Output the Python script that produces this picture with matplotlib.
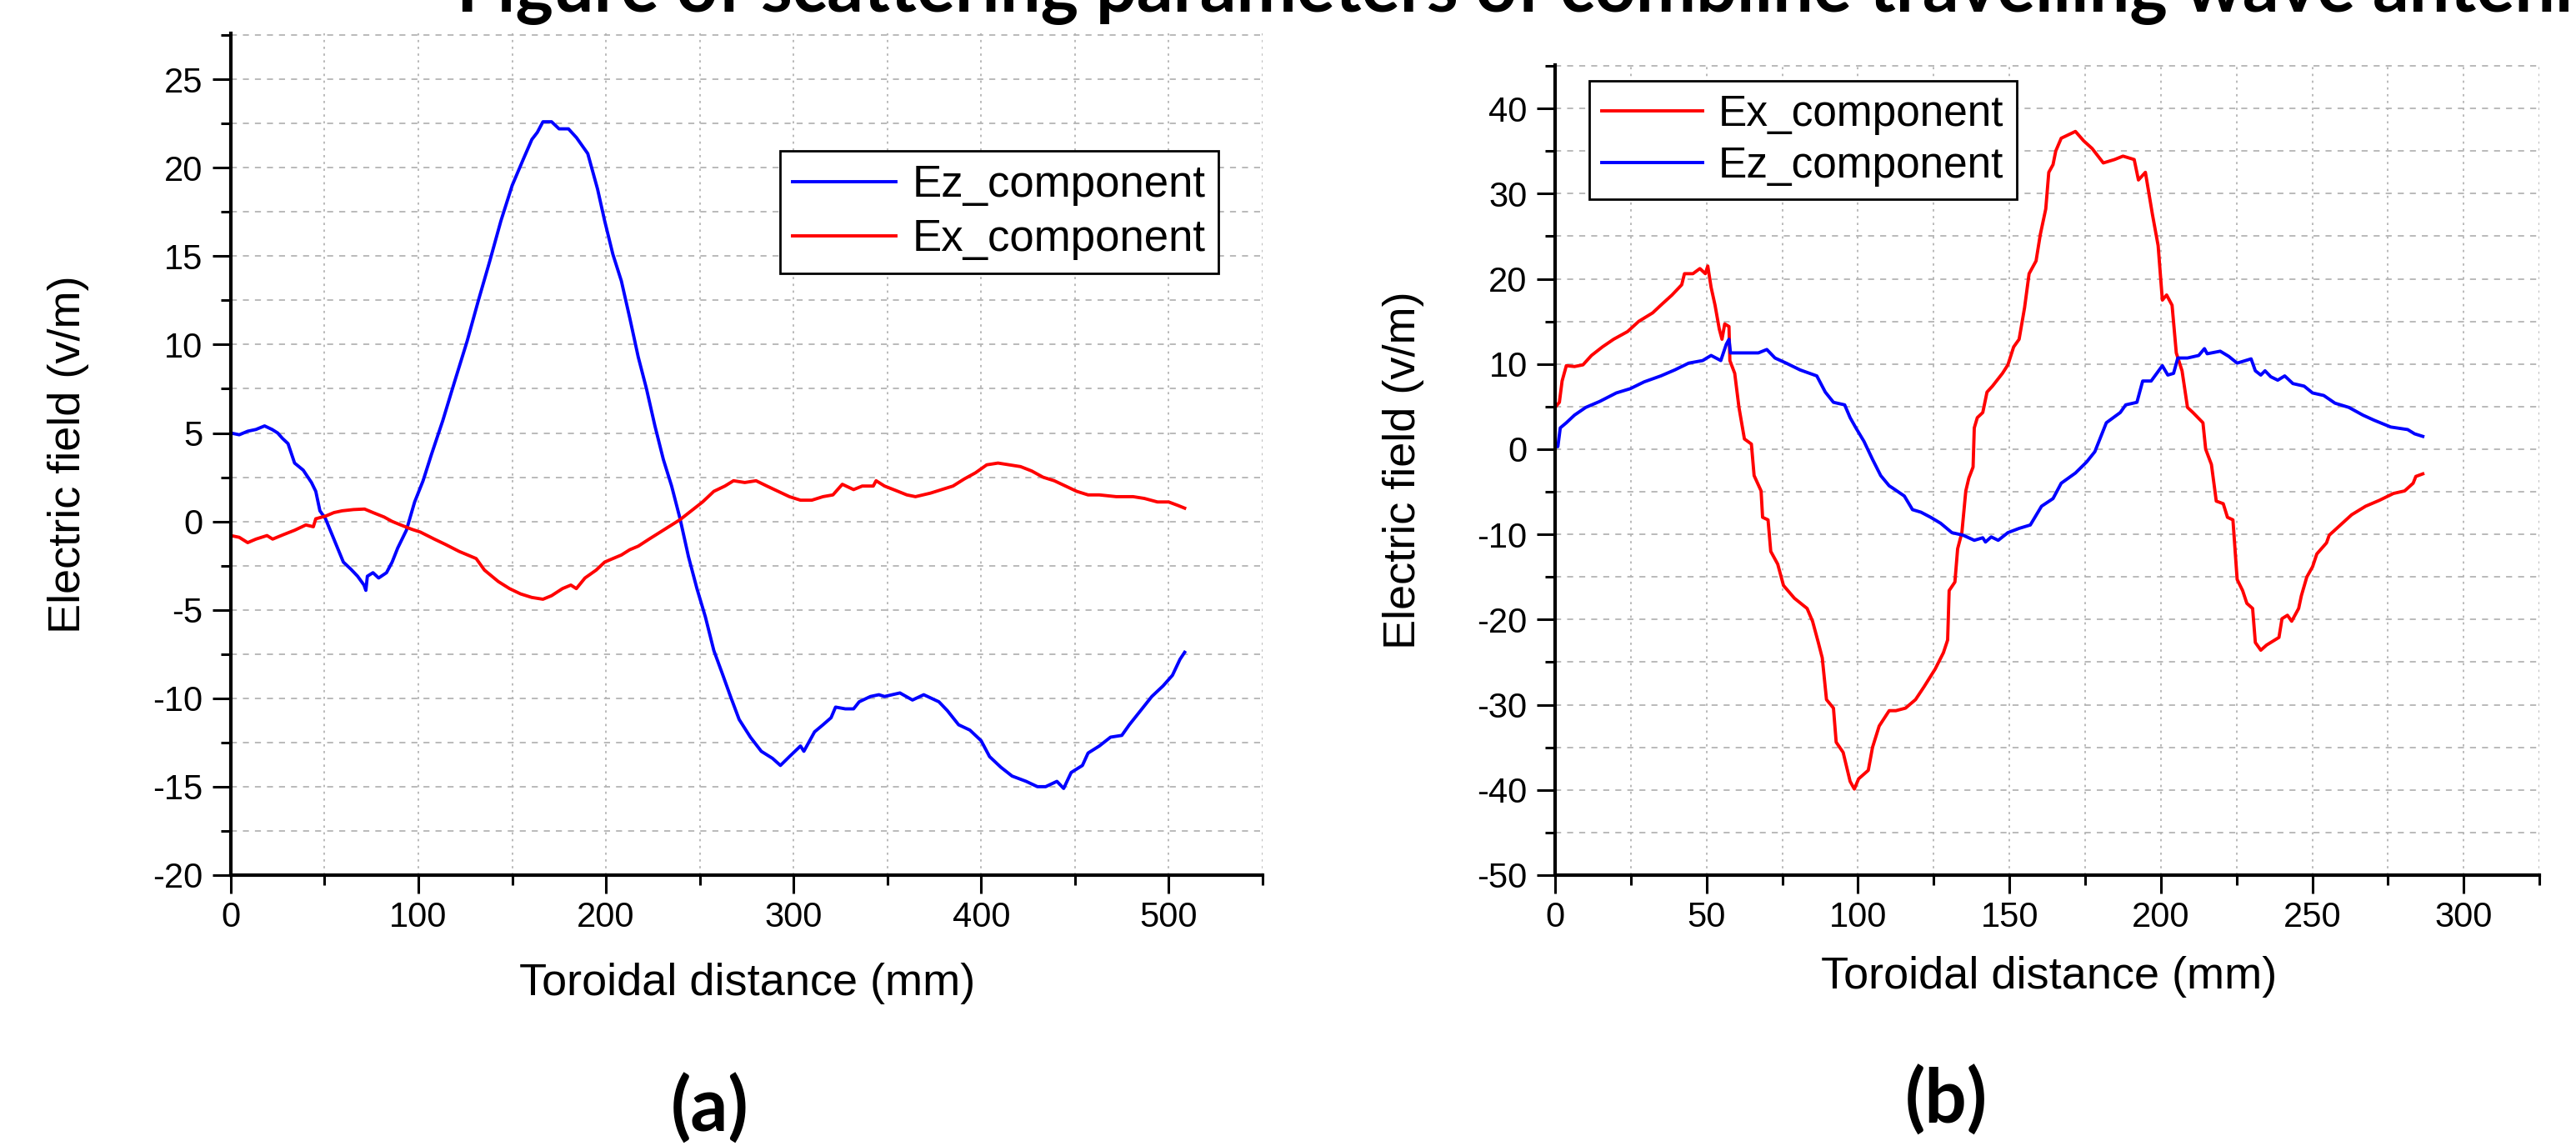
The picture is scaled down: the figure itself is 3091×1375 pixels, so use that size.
import matplotlib
matplotlib.use('Agg')
import matplotlib.pyplot as plt
from matplotlib.ticker import MultipleLocator

plt.rcParams['font.family'] = ['Liberation Sans', 'DejaVu Sans']
plt.rcParams['axes.unicode_minus'] = False

# ── Data ──────────────────────────────────────────────────────────────────────
# panel (a)
a_ez_x = [0, 4.5, 9, 13.4, 18, 22, 25, 27.5, 30.5, 34, 38.6, 43, 45.3, 47.5, 50.5, 56.5, 60, 64,
          67.6, 71, 72, 72.8, 75.8, 78.8, 83, 86, 89, 93.6, 98, 102.5, 107, 113, 119, 126, 132,
          138, 144, 150, 156, 160.5, 163.4, 166.4, 171, 175, 180, 184.3, 190.3, 195.5, 199.3,
          203.7, 208.2, 212.7, 217.2, 221.6, 226.1, 230.6, 235, 239.5, 244, 248.5, 253, 257.5,
          262, 266.4, 271, 277, 282.8, 288.8, 293, 297.8, 303.7, 305.5, 311.2, 315.7, 320,
          322.4, 327.6, 332, 335, 341, 345.5, 348.5, 356.7, 363.4, 369.4, 377.5, 382, 388, 394,
          400, 404.5, 410.5, 416.5, 424, 430, 434.4, 440.4, 444, 448, 454, 457, 463, 469, 475,
          479, 485, 491, 497, 502, 506, 508.5]
a_ez_y = [5.0, 4.9, 5.1, 5.2, 5.4, 5.2, 5.0, 4.7, 4.4, 3.3, 2.9, 2.2, 1.7, 0.6, 0.15, -1.4, -2.3,
          -2.7, -3.1, -3.6, -3.9, -3.1, -2.9, -3.2, -2.9, -2.3, -1.5, -0.5, 1.1, 2.3, 3.8, 5.7,
          7.8, 10.2, 12.5, 14.7, 17.0, 19.0, 20.5, 21.6, 22.0, 22.6, 22.6, 22.2, 22.2, 21.7,
          20.8, 18.8, 17.0, 15.1, 13.6, 11.5, 9.3, 7.5, 5.4, 3.5, 2.0, 0.15, -2.0, -3.8, -5.4,
          -7.3, -8.6, -9.9, -11.2, -12.2, -13.0, -13.4, -13.8, -13.3, -12.7, -13.0, -11.9,
          -11.5, -11.1, -10.5, -10.6, -10.6, -10.2, -9.9, -9.8, -9.9, -9.7, -10.1, -9.8, -10.2,
          -10.7, -11.5, -11.8, -12.4, -13.3, -13.9, -14.4, -14.7, -15.0, -15.0, -14.7, -15.1,
          -14.2, -13.8, -13.1, -12.7, -12.2, -12.1, -11.5, -10.7, -9.9, -9.3, -8.7, -7.8, -7.4]

a_ex_x = [0, 4.5, 9, 13.4, 19.3, 22.3, 28, 34, 40, 44, 45.3, 50.5, 55, 59.4, 65.4, 71.3, 75.8,
          81.7, 86, 90.6, 96.6, 101, 108.5, 114.4, 121.8, 126.3, 130.8, 135.2, 142.6, 148.6,
          154.5, 160.5, 166.4, 171, 176.8, 181.3, 184.2, 188.8, 194.8, 199.3, 203.7, 208.2,
          212.7, 217.2, 223, 229, 235, 239.5, 245.5, 251.5, 257.5, 263.4, 268, 274, 280, 285.8,
          291.8, 297.8, 303.7, 309.7, 315.7, 321, 326, 332, 336.6, 342.5, 344, 348.5, 354.5,
          360.4, 365, 373, 379, 385, 391, 397, 403, 409, 415, 421, 427, 433, 439, 445, 451,
          457, 463, 472, 481, 487, 494, 500, 505, 508.5]
a_ex_y = [-0.8, -0.9, -1.2, -1.0, -0.8, -1.0, -0.75, -0.5, -0.2, -0.3, 0.15, 0.3, 0.5, 0.6,
          0.67, 0.7, 0.5, 0.25, 0.0, -0.2, -0.45, -0.6, -1.0, -1.3, -1.7, -1.9, -2.1, -2.75,
          -3.4, -3.8, -4.1, -4.3, -4.4, -4.2, -3.8, -3.6, -3.8, -3.2, -2.75, -2.3, -2.1, -1.9,
          -1.6, -1.4, -1.0, -0.6, -0.2, 0.1, 0.6, 1.1, 1.7, 2.0, 2.3, 2.2, 2.3, 2.0, 1.7, 1.4,
          1.2, 1.2, 1.4, 1.5, 2.1, 1.8, 2.0, 2.0, 2.3, 2.0, 1.75, 1.5, 1.4, 1.6, 1.8, 2.0, 2.4,
          2.75, 3.2, 3.3, 3.2, 3.1, 2.85, 2.5, 2.3, 2.0, 1.7, 1.5, 1.5, 1.4, 1.4, 1.3, 1.1, 1.1,
          0.9, 0.75]

# panel (b)
b_ex_x = [0, 1.4, 2.3, 3.7, 6.4, 9.2, 12, 15.6, 19.3, 23.9, 27.6, 32.2, 34.9, 38.6, 41.8, 42.7,
          45.5, 47.8, 49.6, 50.4, 51.5, 52.8, 54.2, 55.1, 56, 57.4, 57.7, 59.3, 60.7, 62.5, 64.8,
          65.7, 68, 68.5, 70.3, 71.2, 73.5, 75.4, 79, 83.2, 85, 86.9, 88.2, 89.6, 91.9, 92.8,
          95.1, 97.4, 98.8, 100.2, 103.4, 104.8, 107, 110.3, 112.5, 115.7, 119, 121.8, 125.5,
          128.2, 129.6, 130.1, 132, 132.9, 134.3, 135.6, 136.6, 138, 138.4, 139.4, 141.2,
          142.6, 144.4, 147.7, 149.5, 151.4, 153.2, 155, 156.5, 158.8, 160.2, 162, 163, 164.4,
          165.3, 167.1, 171.8, 174.5, 177.3, 181, 184.7, 187.5, 191.2, 192.6, 194.9, 197.2,
          199.1, 200.5, 201.9, 203.7, 205.1, 207, 208.8, 210.6, 213.9, 214.8, 216.7, 218.3,
          220.6, 222, 223.8, 225.2, 227, 228.4, 230.3, 231.2, 233, 234.9, 239, 240, 241.8,
          243.2, 245.5, 246.4, 248.2, 250.1, 251.5, 254.7, 255.6, 259.3, 263, 267.6, 272.2,
          276.8, 280.5, 283.3, 284.2, 286.5]
b_ex_y = [4.9, 5.5, 8.0, 9.8, 9.7, 9.9, 11.0, 12.0, 12.9, 13.8, 15.0, 16.0, 16.9, 18.1, 19.3,
          20.6, 20.6, 21.2, 20.6, 21.5, 19.0, 16.9, 14.1, 12.9, 14.7, 14.4, 10.4, 8.9, 4.9, 1.2,
          0.6, -3.1, -4.9, -8.0, -8.3, -12.0, -13.5, -16.0, -17.5, -18.7, -20.2, -22.7, -24.5,
          -29.4, -30.4, -34.4, -35.6, -39.0, -39.9, -38.7, -37.7, -35.0, -32.5, -30.7, -30.7,
          -30.4, -29.4, -27.9, -25.8, -23.9, -22.4, -16.6, -15.6, -11.7, -9.8, -4.9, -3.4,
          -2.1, 2.5, 3.7, 4.3, 6.7, 7.4, 8.9, 9.9, 12.0, 12.9, 16.6, 20.6, 22.1, 25.2, 28.2,
          32.5, 33.4, 35.0, 36.5, 37.3, 36.2, 35.3, 33.6, 34.0, 34.4, 34.0, 31.6, 32.5, 27.6,
          23.9, 17.5, 18.1, 16.9, 11.3, 9.2, 4.9, 4.3, 3.1, 0.0, -1.8, -6.1, -6.4, -8.0, -8.3,
          -15.3, -16.6, -18.1, -18.7, -22.7, -23.6, -23.0, -22.1, -19.9, -19.5, -20.2, -18.7,
          -17.2, -15.0, -13.8, -12.3, -11.0, -10.1, -8.9, -7.7, -6.7, -6.0, -5.2, -4.9, -4.0,
          -3.2, -2.9]

b_ez_x = [0, 0.9, 1.7, 3.7, 6.4, 10.1, 14.7, 20.2, 24.8, 29.4, 34.9, 39.5, 44.1, 48.7, 51.5,
          54.7, 56.5, 57.4, 57.9, 62.5, 67.1, 69.9, 72.6, 76.3, 80.9, 86.4, 89.2, 91.9, 95.6,
          97.4, 99.3, 102, 104.8, 107.5, 110.3, 111.6, 115.3, 118, 120.8, 124, 127.3, 131,
          134.7, 138.4, 141.2, 142.1, 144, 146.3, 149.5, 153.2, 156.9, 160.6, 164.4, 167.1,
          171.8, 175.5, 178.2, 182, 186.6, 188.4, 192.1, 194, 196.8, 200.5, 202.3, 204.2,
          205.6, 208.8, 212.5, 214.4, 215.3, 219.6, 222.4, 225.2, 229.8, 231.2, 233, 234.4,
          236.3, 238.6, 240.9, 243.6, 247.3, 250.1, 253.8, 257.5, 262.1, 266.7, 270.4, 275.9,
          281.5, 283.8, 286.5]
b_ez_y = [0.3, 0.3, 2.5, 3.1, 4.0, 4.9, 5.6, 6.6, 7.1, 7.9, 8.6, 9.3, 10.1, 10.4, 11.0, 10.4,
          12.3, 12.9, 11.3, 11.3, 11.3, 11.7, 10.7, 10.1, 9.3, 8.6, 6.7, 5.5, 5.2, 3.7, 2.5, 0.9,
          -1.2, -3.1, -4.3, -4.6, -5.5, -7.1, -7.4, -8.0, -8.7, -9.8, -10.1, -10.7, -10.4,
          -10.9, -10.3, -10.7, -9.8, -9.3, -8.9, -6.7, -5.8, -4.0, -2.8, -1.5, -0.3, 3.1, 4.3,
          5.2, 5.5, 8.0, 8.0, 9.8, 8.7, 8.9, 10.7, 10.7, 11.0, 11.8, 11.2, 11.5, 10.9, 10.1,
          10.6, 9.2, 8.7, 9.2, 8.5, 8.1, 8.6, 7.7, 7.4, 6.6, 6.3, 5.4, 4.9, 4.0, 3.4, 2.6, 2.3,
          1.8, 1.5]

BLUE = '#0000FF'
RED = '#FF0000'
GRID = '#b4b4b4'
LW = 2.8

fig = plt.figure(figsize=(30.91, 13.75), dpi=100)
fig.patch.set_facecolor('white')

ax_a = fig.add_axes([0.0896, 0.2364, 0.4005, 0.7345])
ax_b = fig.add_axes([0.6037, 0.2364, 0.3821, 0.7069])


def style_axis(ax, xmaj, xmin, ymaj, ymin):
    for s in ('top', 'right'):
        ax.spines[s].set_visible(False)
    for s in ('left', 'bottom'):
        ax.spines[s].set_linewidth(3)
    ax.xaxis.set_major_locator(MultipleLocator(xmaj))
    ax.xaxis.set_minor_locator(MultipleLocator(xmin))
    ax.yaxis.set_major_locator(MultipleLocator(ymaj))
    ax.yaxis.set_minor_locator(MultipleLocator(ymin))
    ax.tick_params(which='major', direction='out', length=16, width=2.2,
                   labelsize=30, pad=6)
    ax.tick_params(which='minor', direction='out', length=8.5, width=2.2)
    ax.tick_params(axis='y', which='major', pad=8)
    ax.xaxis.grid(True, which='both', color=GRID, linestyle=(0, (1.5, 3)), linewidth=1.3)
    ax.yaxis.grid(True, which='both', color=GRID, linestyle=(0, (4, 4)), linewidth=1.3)
    ax.set_axisbelow(True)
    ax.set_xlabel('Toroidal distance (mm)', fontsize=39)
    ax.set_ylabel('Electric field (v/m)', fontsize=39)


# ── Panel (a) ─────────────────────────────────────────────────────────────────
ax_a.plot(a_ez_x, a_ez_y, color=BLUE, lw=LW, label='Ez_component')
ax_a.plot(a_ex_x, a_ex_y, color=RED, lw=LW, label='Ex_component')
ax_a.set_xlim(0, 550)
ax_a.set_ylim(-20, 27.6)
style_axis(ax_a, 100, 50, 5, 2.5)
ax_a.xaxis.set_label_coords(0.5008, -0.104)
ax_a.yaxis.set_label_coords(-0.137, 0.5)
leg = ax_a.legend(loc='upper left', bbox_to_anchor=(0.532, 0.86), borderaxespad=0,
                  fontsize=38, handlelength=2.35, handletextpad=0.36, borderpad=0.3,
                  labelspacing=0.28, fancybox=False, framealpha=1, edgecolor='black')
leg.get_frame().set_linewidth(2)

# ── Panel (b) ─────────────────────────────────────────────────────────────────
ax_b.plot(b_ex_x, b_ex_y, color=RED, lw=LW, label='Ex_component')
ax_b.plot(b_ez_x, b_ez_y, color=BLUE, lw=LW, label='Ez_component')
ax_b.set_xlim(0, 325)
ax_b.set_ylim(-50, 45.1)
style_axis(ax_b, 50, 25, 10, 5)
ax_b.xaxis.set_label_coords(0.502, -0.100)
ax_b.yaxis.set_label_coords(-0.133, 0.5)
leg = ax_b.legend(loc='upper left', bbox_to_anchor=(0.0347, 0.98), borderaxespad=0,
                  fontsize=37, handlelength=2.35, handletextpad=0.36, borderpad=0.3,
                  labelspacing=0.25, fancybox=False, framealpha=1, edgecolor='black')
leg.get_frame().set_linewidth(2)

# ── Panel letters and cut-off heading ─────────────────────────────────────────
fig.text(852 / 3091, 1 - 1330 / 1375, '(a)', ha='center', va='center',
         fontsize=64, fontweight='bold', family=['Lato', 'DejaVu Sans'])
fig.text(2335 / 3091, 1 - 1320 / 1375, '(b)', ha='center', va='center',
         fontsize=64, fontweight='bold', family=['Lato', 'DejaVu Sans'])
fig.text(548 / 3091, 1 - 14 / 1375,
         'Figure of scattering parameters of combline travelling wave antenna',
         ha='left', va='baseline', fontsize=62, fontweight='bold',
         family=['Lato', 'DejaVu Sans'])

plt.savefig('out.png', dpi=100, facecolor='white')
plt.close()
